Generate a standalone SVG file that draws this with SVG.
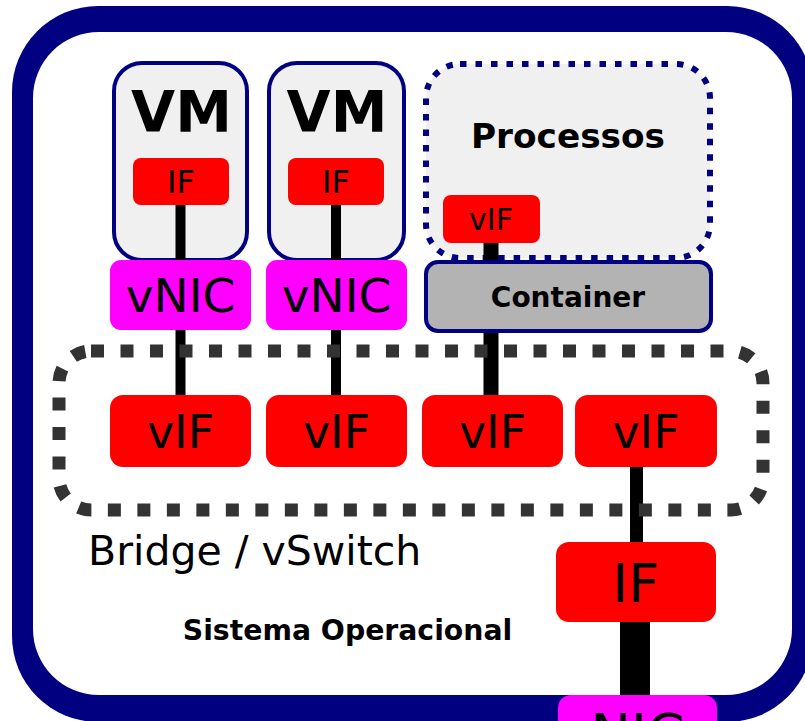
<svg xmlns="http://www.w3.org/2000/svg" width="805" height="721" viewBox="0 0 805 721">
  <style>
    text { font-family: "DejaVu Sans", "Liberation Sans", sans-serif; fill: #000; text-anchor: middle; }
    .b { font-weight: bold; }
    .red { fill: #ff0000; }
    .mag { fill: #ff00ff; }
    .vm { fill: #f0f0f0; stroke: #000080; stroke-width: 4; }
    .link { stroke: #000; fill: none; }
  </style>

  <rect x="0" y="0" width="805" height="721" fill="#ffffff"/>

  <!-- operating system frame -->
  <g id="sistema-operacional">
    <rect x="12" y="6" width="801" height="716" rx="86" fill="#000080"/>
    <rect x="33" y="32" width="759" height="663" rx="66" fill="#ffffff"/>
    <text class="b" x="347.5" y="640" font-size="28.3">Sistema Operacional</text>
    <text x="88" y="565" font-size="41" style="text-anchor:start">Bridge / vSwitch</text>
  </g>

  <!-- guest containers -->
  <g id="vm1">
    <rect class="vm" x="114" y="63" width="133" height="197" rx="28"/>
    <text class="b" x="181.5" y="132" font-size="57">VM</text>
  </g>
  <g id="vm2">
    <rect class="vm" x="269" y="63" width="135" height="197" rx="28"/>
    <text class="b" x="337" y="132" font-size="57">VM</text>
  </g>
  <g id="processos">
    <rect x="426" y="64" width="284" height="194" rx="34" fill="#f0f0f0" stroke="#000080" stroke-width="6" stroke-dasharray="6.5 9"/>
    <text class="b" x="568" y="148" font-size="34.3">Processos</text>
  </g>

  <!-- links -->
  <g id="connectors">
    <line class="link" x1="180.5" y1="200" x2="180.5" y2="400" stroke-width="10"/>
    <line class="link" x1="336" y1="200" x2="336" y2="400" stroke-width="10"/>
    <line class="link" x1="491" y1="238" x2="491" y2="400" stroke-width="15"/>
    <line class="link" x1="636.5" y1="462" x2="636.5" y2="547" stroke-width="13"/>
    <line class="link" x1="635" y1="617" x2="635" y2="700" stroke-width="30"/>
  </g>

  <g id="bridge">
    <rect x="59" y="351" width="704" height="159" rx="32" fill="none" stroke="#333333" stroke-width="13" stroke-dasharray="13 16.5"/>
  </g>

  <!-- interfaces -->
  <g id="vm1-if">
    <rect class="red" x="133" y="158" width="96" height="47" rx="8"/>
    <text x="181" y="193" font-size="32">IF</text>
  </g>
  <g id="vm2-if">
    <rect class="red" x="288" y="158" width="96" height="47" rx="8"/>
    <text x="336" y="193" font-size="32">IF</text>
  </g>
  <g id="vm1-vnic">
    <rect class="mag" x="110" y="260" width="141" height="70" rx="11"/>
    <text x="180.5" y="312" font-size="47">vNIC</text>
  </g>
  <g id="vm2-vnic">
    <rect class="mag" x="266" y="260" width="141" height="70" rx="11"/>
    <text x="336.5" y="312" font-size="47">vNIC</text>
  </g>
  <g id="processos-vif">
    <rect class="red" x="443" y="195" width="97" height="48" rx="8"/>
    <text x="491" y="230" font-size="30">vIF</text>
  </g>
  <g id="container">
    <rect x="426" y="262" width="285" height="69" rx="12" fill="#b3b3b3" stroke="#000080" stroke-width="4"/>
    <text class="b" x="568" y="307" font-size="28">Container</text>
  </g>
  <g id="bridge-vif1">
    <rect class="red" x="110" y="395" width="141" height="72" rx="13"/>
    <text x="180.5" y="448" font-size="46">vIF</text>
  </g>
  <g id="bridge-vif2">
    <rect class="red" x="266" y="395" width="141" height="72" rx="13"/>
    <text x="336.5" y="448" font-size="46">vIF</text>
  </g>
  <g id="bridge-vif3">
    <rect class="red" x="422" y="395" width="141" height="72" rx="13"/>
    <text x="492.5" y="448" font-size="46">vIF</text>
  </g>
  <g id="bridge-vif4">
    <rect class="red" x="575" y="395" width="142" height="72" rx="13"/>
    <text x="646" y="448" font-size="46">vIF</text>
  </g>
  <g id="host-if">
    <rect class="red" x="556" y="542" width="160" height="80" rx="13"/>
    <text x="636" y="602" font-size="54">IF</text>
  </g>
  <g id="nic">
    <rect class="mag" x="558" y="695" width="159" height="80" rx="13"/>
    <text x="637.5" y="752" font-size="54">NIC</text>
  </g>
</svg>
